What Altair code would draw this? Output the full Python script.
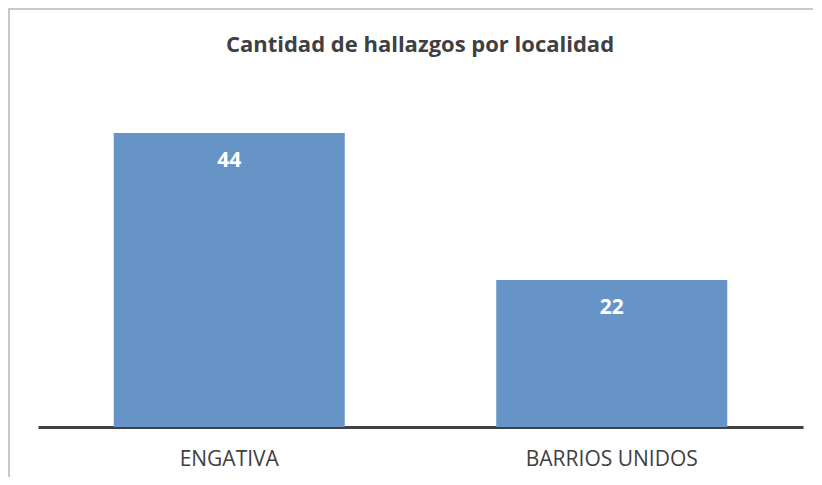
import altair as alt
import pandas as pd

categories = ["ENGATIVA", "BARRIOS UNIDOS"]
values = [44, 22]

df = pd.DataFrame({"localidad": categories, "hallazgos": values})

FONT = "Open Sans"
BORDER = "#C8C8C8"

base = alt.Chart(df)

x_enc = alt.X(
    "localidad:N",
    sort=categories,
    scale=alt.Scale(paddingInner=0.396, paddingOuter=0.198),
    axis=alt.Axis(
        title=None,
        labelAngle=0,
        ticks=False,
        domainColor="#404040",
        domainWidth=3,
        labelColor="#404040",
        labelFont=FONT,
        labelFontSize=21,
        labelBaseline="alphabetic",
        labelPadding=38,
        grid=False,
    ),
)
y_enc = alt.Y(
    "hallazgos:Q",
    scale=alt.Scale(domain=[0, 50], nice=False),
    axis=None,
)

bars = base.mark_bar(color="#6794C7").encode(x=x_enc, y=y_enc)

labels = base.mark_text(
    color="white",
    font=FONT,
    fontWeight="bold",
    fontSize=21,
    baseline="alphabetic",
    dy=34,
).encode(x=x_enc, y=y_enc, text="hallazgos:Q")

frame = alt.Chart(pd.DataFrame({"k": [0]})).mark_rect(
    fill=None, fillOpacity=0, stroke=BORDER, strokeWidth=2
).encode(
    x=alt.value(-29), x2=alt.value(1000), y=alt.value(-84), y2=alt.value(800)
)

title_text = alt.Chart(pd.DataFrame({"k": [0]})).mark_text(
    text="Cantidad de hallazgos por localidad",
    font=FONT,
    fontWeight="bold",
    fontSize=22,
    color="#404040",
    baseline="alphabetic",
    align="center",
).encode(x=alt.value(382), y=alt.value(-41))

chart = (
    alt.layer(frame, bars, labels, title_text)
    .properties(
        width=765,
        height=334,
        autosize=alt.AutoSizeParams(type="none"),
        padding={"left": 30, "top": 85, "right": 10, "bottom": 50},
        background="white",
    )
    .configure_view(stroke=None)
)

chart.save("out.html", embed_options={"renderer": "svg", "actions": False})
